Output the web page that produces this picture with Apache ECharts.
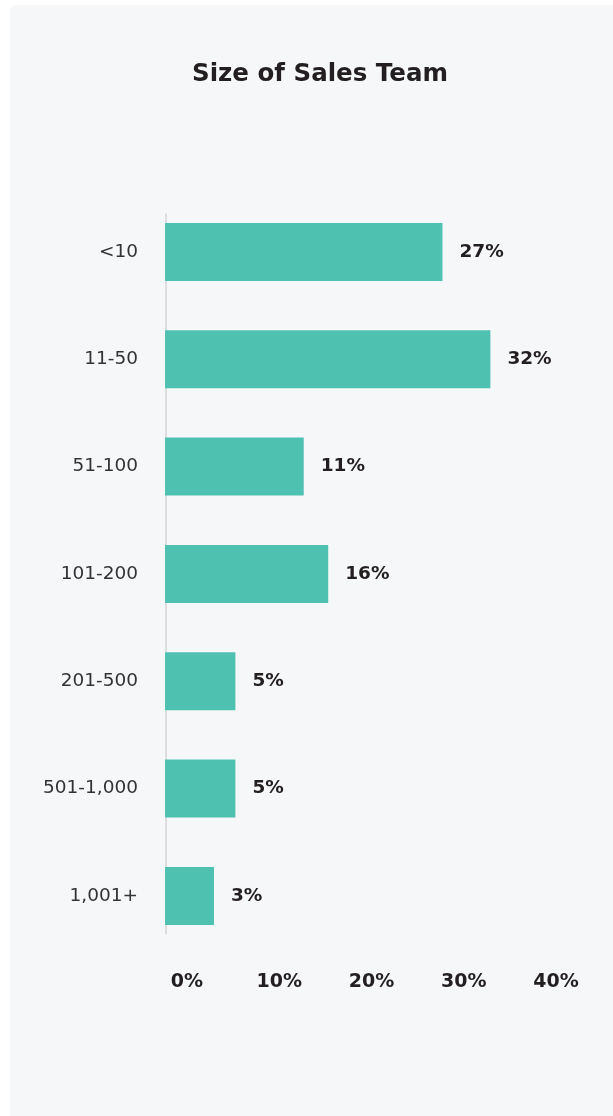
<!DOCTYPE html>
<html>
<head>
<meta charset="utf-8">
<script src="https://cdn.jsdelivr.net/npm/echarts@6/dist/echarts.min.js"></script>
<style>
  html, body { margin: 0; padding: 0; background: #ffffff; }
  #panel { position: absolute; left: 10px; top: 5px; width: 603px; height: 1111px; background: #f6f7f9; border-radius: 6px 0 0 0; }
  #chart { position: absolute; left: 0; top: 0; width: 613px; height: 1116px; }
</style>
</head>
<body>
<div id="panel"></div>
<div id="chart"></div>
<script>
const titleText = 'Size of Sales Team';
const categories = ['<10', '11-50', '51-100', '101-200', '201-500', '501-1,000', '1,001+'];
// bar lengths as drawn (percent)
const barValues = [27.2, 31.9, 13.6, 16.0, 6.9, 6.9, 4.8];
// labels printed next to the bars
const labelTexts = ['27%', '32%', '11%', '16%', '5%', '5%', '3%'];
const tickValues = [0, 10, 20, 30, 40];

const FONT = '"DejaVu Sans", sans-serif';
const chart = echarts.init(document.getElementById('chart'), null, { renderer: 'canvas' });

chart.setOption({
  backgroundColor: 'transparent',
  animation: false,
  title: {
    text: titleText,
    left: 315,
    top: 57,
    textAlign: 'center',
    textStyle: { fontFamily: FONT, fontSize: 24.5, fontWeight: 'bold', color: '#231f20' }
  },
  grid: [
    { left: 165, top: 198.3, width: 408, height: 751.3, containLabel: false },
    { left: 187, top: 214, width: 369, height: 720, containLabel: false },
    { left: 165.5, top: 214, width: 100, height: 720, containLabel: false }
  ],
  xAxis: [
    { gridIndex: 0, type: 'value', min: 0, max: 40, show: false },
    {
      gridIndex: 1, type: 'value', min: tickValues[0], max: tickValues[tickValues.length - 1], interval: 10,
      position: 'bottom',
      axisLine: { show: false }, axisTick: { show: false }, splitLine: { show: false },
      axisLabel: {
        margin: 39,
        formatter: '{value}%',
        fontFamily: FONT, fontSize: 19, fontWeight: 'bold', color: '#231f20'
      }
    },
    { gridIndex: 2, type: 'value', min: 0, max: 1, show: false }
  ],
  yAxis: [
    {
      gridIndex: 0, type: 'category', data: categories, inverse: true,
      axisLine: { show: false }, axisTick: { show: false }, splitLine: { show: false },
      axisLabel: { margin: 27, fontFamily: FONT, fontSize: 18.5, color: '#333333' }
    },
    { gridIndex: 1, type: 'value', min: 0, max: 1, show: false },
    {
      gridIndex: 2, type: 'value', min: 0, max: 1,
      axisLine: { show: true, lineStyle: { color: '#d4d4d6', width: 1.5 } },
      axisTick: { show: false }, axisLabel: { show: false }, splitLine: { show: false }
    }
  ],
  series: [
    { type: 'scatter', xAxisIndex: 2, yAxisIndex: 2, data: [], silent: true },
    {
      type: 'bar',
      xAxisIndex: 0, yAxisIndex: 0,
      data: barValues,
      barWidth: 58,
      itemStyle: { color: '#4fc1b1' },
      label: {
        show: true,
        position: 'right',
        distance: 17,
        formatter: p => labelTexts[p.dataIndex],
        fontFamily: FONT, fontSize: 18.5, fontWeight: 'bold', color: '#231f20'
      },
      z: 3
    },
    { type: 'scatter', xAxisIndex: 1, yAxisIndex: 1, data: [], silent: true }
  ]
});
</script>
</body>
</html>
